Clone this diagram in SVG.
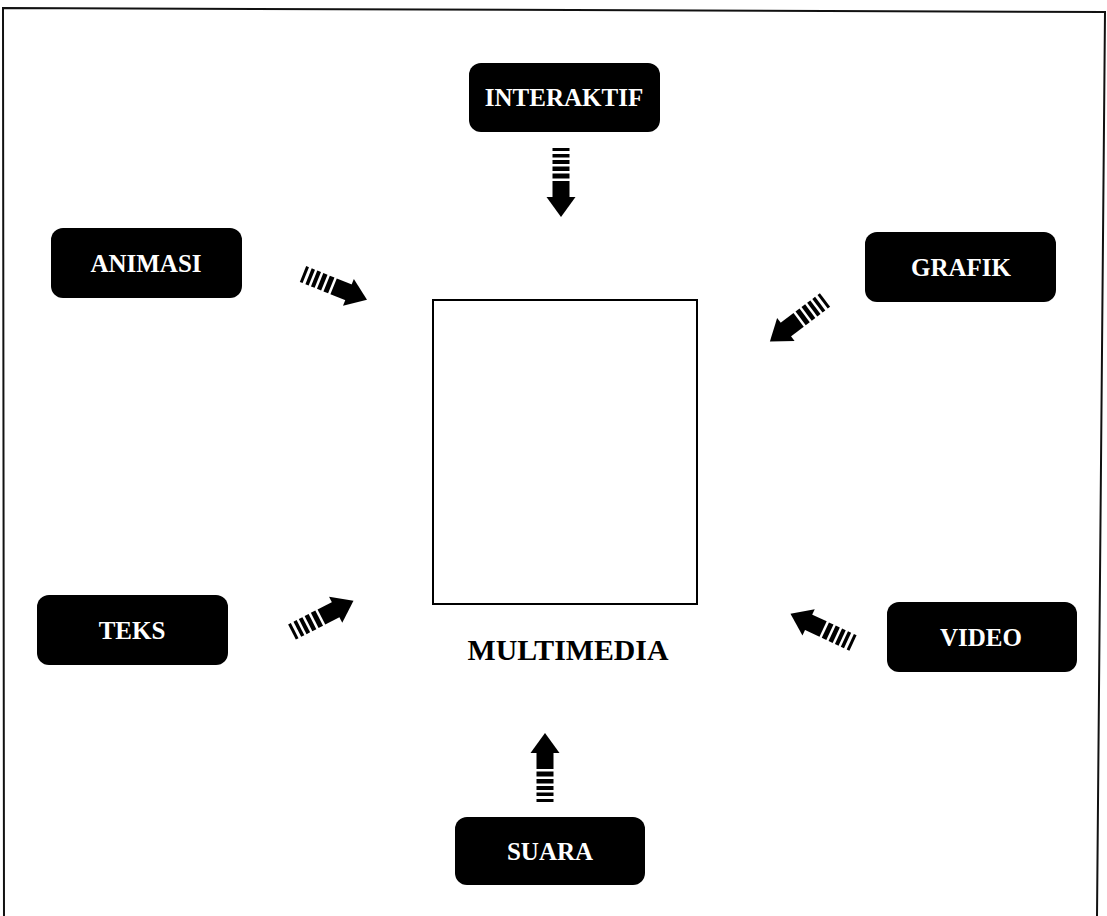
<svg xmlns="http://www.w3.org/2000/svg" xmlns:xlink="http://www.w3.org/1999/xlink" width="1107" height="916" viewBox="0 0 1107 916">
<style>
.box{fill:#000;}
.lbl{fill:#fff;font-family:"Liberation Serif","Times New Roman",serif;font-weight:bold;font-size:25px;text-anchor:middle;}
.title{fill:#000;font-family:"Liberation Serif","Times New Roman",serif;font-weight:bold;font-size:29px;text-anchor:middle;}
.frame{fill:none;stroke:#111;stroke-width:2;}
</style>
<defs>
<g id="arr" fill="#000">
<rect x="0" y="-8.5" width="3" height="17"/>
<rect x="6" y="-8.5" width="3.5" height="17"/>
<rect x="12" y="-8.5" width="4" height="17"/>
<rect x="18.5" y="-8.5" width="4.5" height="17"/>
<rect x="25.5" y="-8.5" width="5" height="17"/>
<rect x="33" y="-8.5" width="17" height="17"/>
<polygon points="49,-14.5 69,0 49,14.5"/>
</g>
</defs>
<rect width="1107" height="916" fill="#fff"/>
<polyline class="frame" points="4,916 3,8 1105,12 1097,916"/>
<g id="multimedia">
<rect x="433" y="300" width="264" height="304" fill="none" stroke="#000" stroke-width="2"/>
<text class="title" x="568" y="660" textLength="201" lengthAdjust="spacingAndGlyphs">MULTIMEDIA</text>
</g>
<g id="interaktif">
<rect class="box" x="469" y="63" width="191" height="69" rx="12"/>
<text class="lbl" x="564" y="106">INTERAKTIF</text>
</g>
<g id="animasi">
<rect class="box" x="51" y="228" width="191" height="70" rx="12"/>
<text class="lbl" x="146" y="271.5">ANIMASI</text>
</g>
<g id="grafik">
<rect class="box" x="865" y="232" width="191" height="70" rx="12"/>
<text class="lbl" x="961" y="275.5">GRAFIK</text>
</g>
<g id="teks">
<rect class="box" x="37" y="595" width="191" height="70" rx="12"/>
<text class="lbl" x="132" y="638.5">TEKS</text>
</g>
<g id="video">
<rect class="box" x="887" y="602" width="190" height="70" rx="12"/>
<text class="lbl" x="981" y="645.5">VIDEO</text>
</g>
<g id="suara">
<rect class="box" x="455" y="817" width="190" height="68" rx="12"/>
<text class="lbl" x="550" y="859.5">SUARA</text>
</g>
<g id="connectors">
<use xlink:href="#arr" href="#arr" transform="translate(561,148) rotate(90)"/>
<use xlink:href="#arr" href="#arr" transform="translate(545,802) rotate(-90)"/>
<use xlink:href="#arr" href="#arr" transform="translate(303,274) rotate(22)"/>
<use xlink:href="#arr" href="#arr" transform="translate(825,300) rotate(143)"/>
<use xlink:href="#arr" href="#arr" transform="translate(292,632) rotate(-27)"/>
<use xlink:href="#arr" href="#arr" transform="translate(853,643) rotate(205)"/>
</g>
</svg>
